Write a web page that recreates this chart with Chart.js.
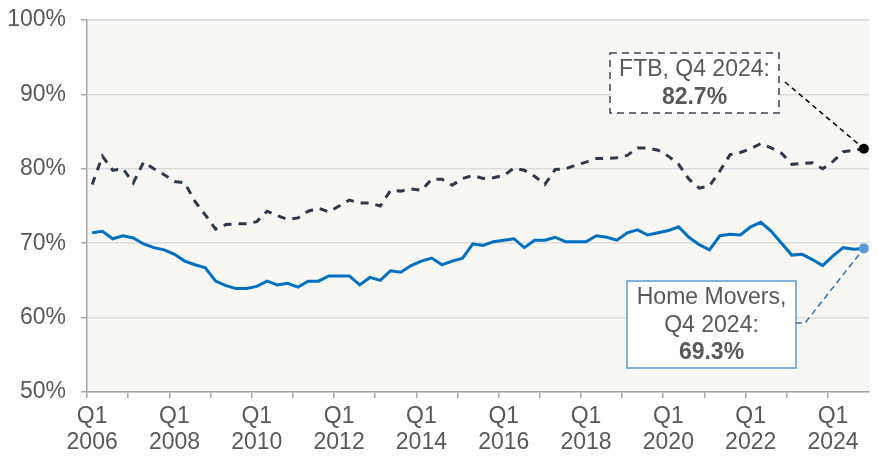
<!DOCTYPE html>
<html><head><meta charset="utf-8">
<script src="https://cdn.jsdelivr.net/npm/chart.js@4.4.1/dist/chart.umd.min.js"></script>
<style>html,body{margin:0;padding:0;background:#fff}#wrap{width:878px;height:460px;position:relative}</style>
</head><body><div id="wrap"><canvas id="c"></canvas></div>
<script>
const years = [2006,2007,2008,2009,2010,2011,2012,2013,2014,2015,2016,2017,2018,2019,2020,2021,2022,2023,2024];
const quarters = ['Q1','Q2','Q3','Q4'];
const categories = [];
years.forEach(y => quarters.forEach(q => categories.push(q + ' ' + y)));

const ftb = [77.9,81.7,79.8,80.0,78.1,80.9,80.0,79.2,78.3,78.1,75.6,73.8,71.9,72.5,72.6,72.6,
             72.9,74.3,73.7,73.2,73.4,74.3,74.7,74.2,75.0,75.8,75.4,75.4,75.0,77.1,77.0,77.3,
             77.1,78.6,78.6,77.8,78.7,79.1,78.7,78.8,79.1,80.1,79.8,79.0,77.9,79.9,80.0,80.5,
             80.9,81.4,81.4,81.5,81.8,82.8,82.8,82.5,81.7,80.6,78.6,77.4,77.7,79.7,81.9,82.2,
             82.7,83.4,82.8,82.1,80.6,80.7,80.8,80.0,81.0,82.3,82.5,82.7];
const movers = [71.4,71.6,70.6,71.0,70.7,69.9,69.4,69.1,68.5,67.6,67.1,66.7,64.9,64.3,63.9,63.9,
                64.2,64.9,64.4,64.6,64.1,64.9,64.9,65.6,65.6,65.6,64.4,65.4,65.0,66.3,66.1,67.0,
                67.6,68.0,67.1,67.6,68.0,69.9,69.7,70.2,70.4,70.6,69.4,70.4,70.4,70.8,70.2,70.2,
                70.2,71.0,70.8,70.4,71.4,71.8,71.1,71.4,71.7,72.2,70.8,69.8,69.1,71.0,71.2,71.1,
                72.2,72.8,71.6,70.0,68.4,68.5,67.8,67.0,68.3,69.4,69.2,69.3];
const xTickLabels = [['Q1','2006'],['Q1','2008'],['Q1','2010'],['Q1','2012'],['Q1','2014'],
                     ['Q1','2016'],['Q1','2018'],['Q1','2020'],['Q1','2022'],['Q1','2024']];
const ftbNote = ['FTB, Q4 2024:', '82.7%'];
const moversNote = ['Home Movers,', 'Q4 2024:', '69.3%'];

const FONT = "'Liberation Sans', Arial, sans-serif";
const TXT = '#595959';
const AXIS = '#A6A6A6';
const last = categories.length - 1;

const bgPlugin = {
  id: 'bg',
  beforeDraw(chart) {
    const a = chart.chartArea, c = chart.ctx;
    c.save(); c.fillStyle = '#F8F7F3'; c.fillRect(a.left, a.top, a.right - a.left, a.bottom - a.top); c.restore();
  }
};

function drawBox(c, x, y, w, h, stroke, dash, lines, lineGap) {
  c.save();
  c.fillStyle = '#FFFFFF';
  c.fillRect(x, y, w, h);
  c.strokeStyle = stroke; c.lineWidth = 1.5; c.setLineDash(dash);
  c.strokeRect(x, y, w, h);
  c.setLineDash([]);
  c.fillStyle = TXT; c.textAlign = 'center'; c.textBaseline = 'middle';
  const cx = x + w / 2;
  const y0 = y + h / 2 - (lines.length - 1) * lineGap / 2;
  lines.forEach((t, i) => {
    c.font = (i === lines.length - 1 ? 'bold ' : '') + '23px ' + FONT;
    c.fillText(t, cx, y0 + i * lineGap + 1);
  });
  c.restore();
}

const notePlugin = {
  id: 'notes',
  beforeDatasetsDraw(chart) {
    const c = chart.ctx, xs = chart.scales.x, ys = chart.scales.y;
    const fx = xs.getPixelForValue(last), fy = ys.getPixelForValue(ftb[last]);
    const my = ys.getPixelForValue(movers[last]);
    c.save();
    c.lineWidth = 1.5;
    c.strokeStyle = '#000000'; c.setLineDash([5, 4]);
    c.beginPath(); c.moveTo(785, 82); c.lineTo(fx, fy); c.stroke();
    c.strokeStyle = '#2E75B6'; c.setLineDash([6, 4]);
    c.beginPath(); c.moveTo(796, 323); c.lineTo(805, 323); c.lineTo(fx, my); c.stroke();
    c.restore();
  },
  afterDatasetsDraw(chart) {
    const c = chart.ctx;
    drawBox(c, 610, 53, 169, 60, '#3B4454', [7, 5], ftbNote, 28);
    drawBox(c, 627, 281, 169, 87, '#5B9BD5', [], moversNote, 27.5);
  }
};

new Chart(document.getElementById('c'), {
  type: 'line',
  data: {
    labels: categories,
    datasets: [
      {
        label: 'FTB',
        data: ftb,
        borderColor: '#2E3A4B', borderWidth: 3, borderDash: [8, 7],
        pointRadius: ctx => ctx.dataIndex === last ? 5 : 0,
        pointBackgroundColor: '#000000', pointBorderColor: '#000000', pointBorderWidth: 0,
        tension: 0, fill: false
      },
      {
        label: 'Home Movers',
        data: movers,
        borderColor: '#0070C0', borderWidth: 3,
        pointRadius: ctx => ctx.dataIndex === last ? 5 : 0,
        pointBackgroundColor: '#5B9BD5', pointBorderColor: '#5B9BD5', pointBorderWidth: 0,
        tension: 0, fill: false
      }
    ]
  },
  options: {
    responsive: true, maintainAspectRatio: false, animation: false,
    layout: {padding: {top: 20, right: 9, left: 0, bottom: 0}},
    plugins: {legend: {display: false}, tooltip: {enabled: false}},
    scales: {
      x: {
        type: 'category', offset: true,
        afterFit(scale) { scale.height = 68; scale.paddingLeft = 0; scale.paddingRight = 0; },
        ticks: {
          autoSkip: false, maxRotation: 0, minRotation: 0, padding: 6,
          color: TXT, font: {family: FONT, size: 23, lineHeight: 1.12},
          callback: (v, idx) => idx % 8 === 0 ? (xTickLabels[idx / 8] || '') : ''
        },
        grid: {
          offset: true, drawOnChartArea: false, drawTicks: true, tickLength: 6, lineWidth: 1.5,
          color: AXIS,
          tickColor: ctx => (ctx.index % 4 === 0 ? AXIS : 'rgba(0,0,0,0)')
        },
        border: {display: true, color: AXIS, width: 1.5}
      },
      y: {
        min: 50, max: 100,
        afterFit(scale) { scale.width = 87; scale.paddingTop = 0; scale.paddingBottom = 0; },
        ticks: {
          stepSize: 10, padding: 15, color: TXT, font: {family: FONT, size: 23},
          callback: v => v + '%'
        },
        grid: {color: '#DCDCDC', lineWidth: 1.5, tickLength: 6, tickColor: AXIS},
        border: {display: true, color: AXIS, width: 1.5}
      }
    }
  },
  plugins: [bgPlugin, notePlugin]
});
</script></body></html>
